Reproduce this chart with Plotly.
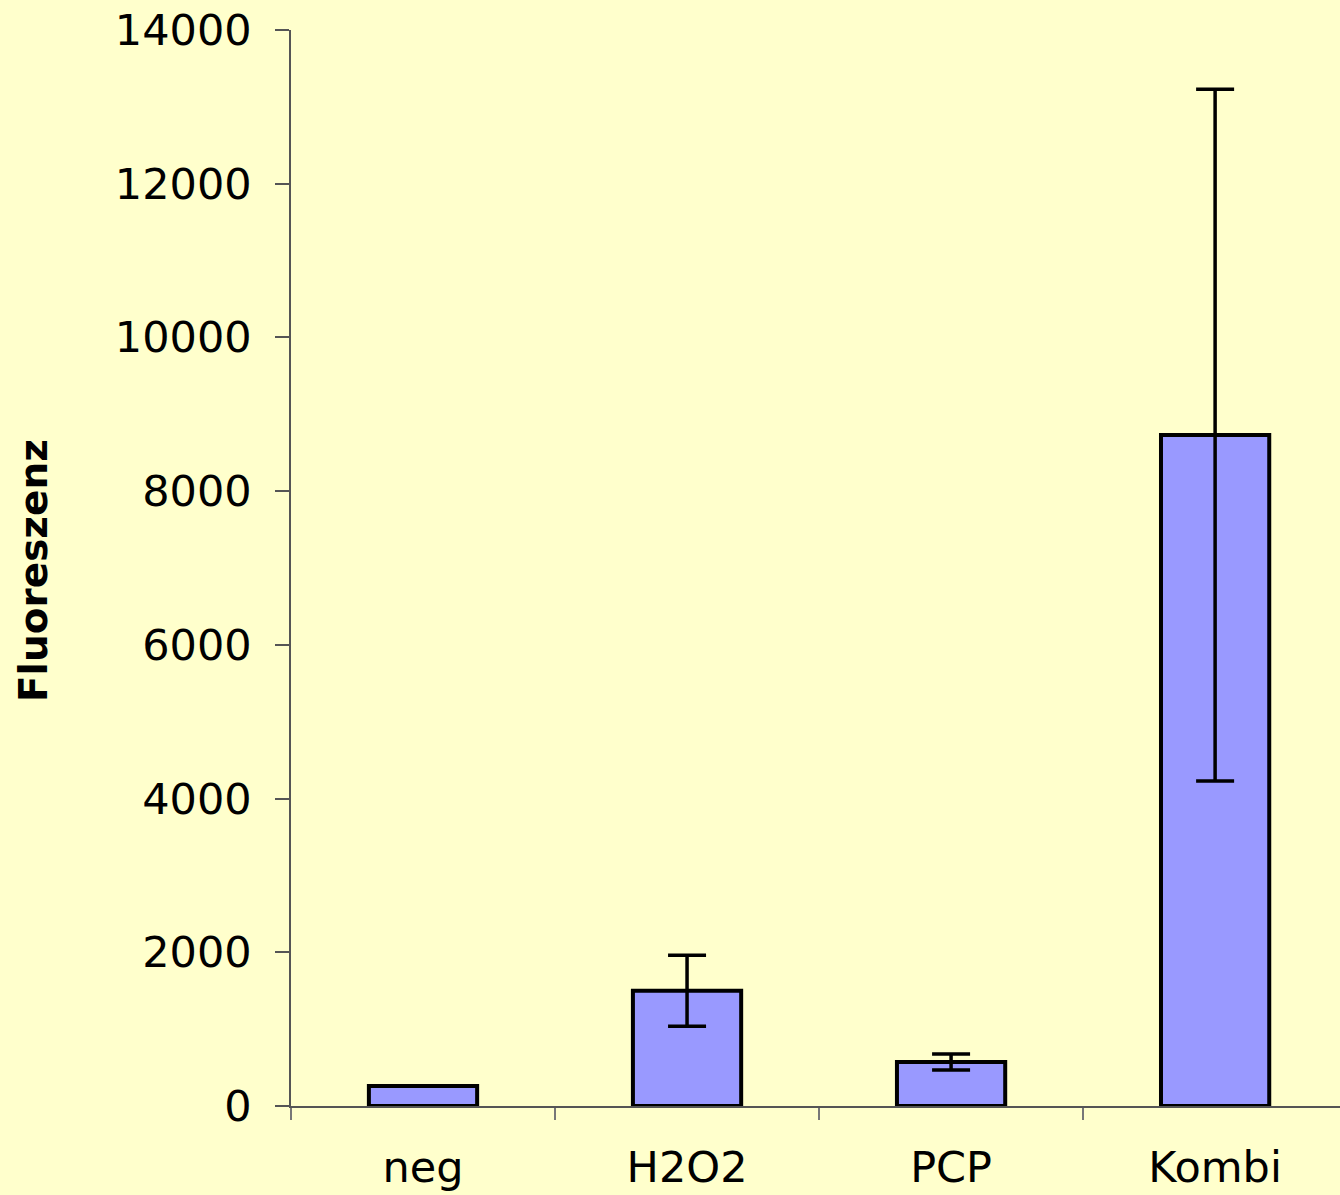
import plotly.graph_objects as go

categories = ["neg", "H2O2", "PCP", "Kombi"]
values = [260, 1500, 572, 8730]
errors = [0, 462, 105, 4500]
y_ticks = [0, 2000, 4000, 6000, 8000, 10000, 12000, 14000]

BG = "#FFFFCC"
FONT = "DejaVu Sans, Liberation Sans, Arial, sans-serif"

fig = go.Figure()
fig.add_trace(go.Bar(
    x=categories, y=values,
    width=0.41,
    marker=dict(color="#9999FF", line=dict(color="black", width=4)),
    error_y=dict(type="data", array=errors, visible=True,
                 color="black", thickness=3.5, width=19),
))

fig.update_layout(
    width=1340, height=1195,
    paper_bgcolor=BG, plot_bgcolor=BG,
    margin=dict(l=291, r=0, t=30, b=89),
    showlegend=False,
    font=dict(family=FONT, color="black", size=43),
    xaxis=dict(
        type="category", range=[-0.5, 3.473],
        showline=True, linecolor="#555555", linewidth=1.5,
        ticks="outside", ticklen=12, tickwidth=1.5, tickcolor="#777777",
        tickson="boundaries", showgrid=False, zeroline=False,
        tickfont=dict(size=43, family=FONT), ticklabelstandoff=23,
    ),
    yaxis=dict(
        range=[0, 14000], tickvals=y_ticks,
        ticktext=[str(v) for v in y_ticks],
        showline=True, linecolor="#555555", linewidth=1.5,
        ticks="outside", ticklen=14, tickwidth=1.5, tickcolor="#555555",
        showgrid=False, zeroline=False,
        tickfont=dict(size=43, family=FONT), ticklabelstandoff=15,
    ),
    annotations=[dict(
        text="<b>Fluoreszenz</b>", textangle=-90,
        xref="paper", yref="paper", x=-0.246, y=0.498,
        xanchor="center", yanchor="middle", showarrow=False,
        font=dict(size=39, family=FONT, color="black"),
    )],
)

fig.write_html(
    "out.html",
    config={"displayModeBar": False},
    post_script="document.body.style.margin='0';document.body.style.padding='0';",
)
